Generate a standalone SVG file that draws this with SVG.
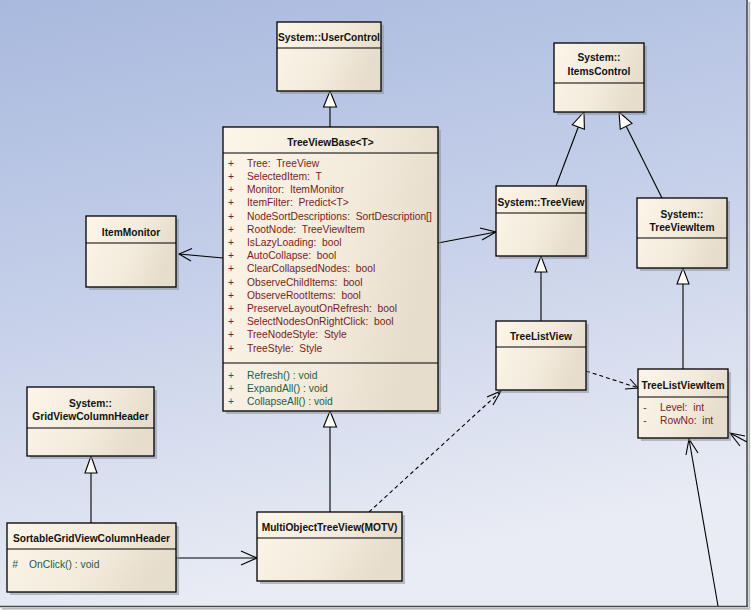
<svg xmlns="http://www.w3.org/2000/svg" width="751" height="610" viewBox="0 0 751 610" xml:space="preserve">
<defs>
<linearGradient id="bg" x1="0" y1="0" x2="0.25" y2="1">
<stop offset="0" stop-color="#a8b9de"/>
<stop offset="0.5" stop-color="#c6d0e9"/>
<stop offset="1" stop-color="#e9ecf4"/>
</linearGradient>
<linearGradient id="boxg" x1="0" y1="0" x2="1" y2="0.3">
<stop offset="0" stop-color="#fcf5e9"/>
<stop offset="0.6" stop-color="#f3ebdc"/>
<stop offset="1" stop-color="#e6ddcc"/>
</linearGradient>
</defs>
<style>
.shadow{fill:#8c8f99;opacity:0.55}
.box{fill:url(#boxg);stroke:#000;stroke-width:1.3}
.div{stroke:#000;stroke-width:1.2}
text{font-family:"Liberation Sans",Arial,sans-serif;font-size:10.3px;white-space:pre}
.title{font-weight:bold;fill:#111;text-anchor:middle;font-size:10.2px}
.attr{fill:#7a1c1c}
.op{fill:#255c44}
.vis{text-anchor:middle}
.conn line,.conn polyline{stroke:#000;stroke-width:1.1;fill:none}
.conn .dash{stroke-dasharray:4 3}
.conn polygon{fill:#fdfcf6;stroke:#000;stroke-width:1.1}
</style>
<rect x="0" y="0" width="751" height="610" fill="#f4f5f8"/>
<rect x="0" y="0" width="747" height="606" fill="url(#bg)"/>
<line x1="747" y1="0" x2="747" y2="607" stroke="#4a4a4a" stroke-width="1.6"/>
<line x1="0" y1="606.5" x2="748" y2="606.5" stroke="#4a4a4a" stroke-width="1.6"/>
<line x1="749.2" y1="2" x2="749.2" y2="609" stroke="#b8b8b8" stroke-width="1.5"/>
<line x1="2" y1="608.7" x2="750" y2="608.7" stroke="#b8b8b8" stroke-width="1.5"/>

<g class="conn" id="connectors">
<line x1="330" y1="127" x2="330" y2="107"/>
<polygon points="330,91 323.5,107 336.5,107"/>
<line x1="330" y1="512" x2="330" y2="427"/>
<polygon points="330,411 323.5,427 336.5,427"/>
<line x1="541" y1="321" x2="541" y2="272"/>
<polygon points="541,256 535,272 547,272"/>
<line x1="683" y1="369" x2="683" y2="284"/>
<polygon points="683,268 677,284 689,284"/>
<line x1="91" y1="523" x2="91" y2="473"/>
<polygon points="91,456 85,473 97,473"/>
<line x1="556" y1="186" x2="578.3" y2="127"/>
<polygon points="584,112 572.3,124.7 584.4,129.3"/>
<line x1="662" y1="198" x2="626.2" y2="126.3"/>
<polygon points="619,112 632,123.4 620.3,129.2"/>
<line x1="223" y1="258" x2="179" y2="254"/>
<polyline points="192,248.5 179,254 191,261"/>
<line x1="438" y1="243" x2="496" y2="232"/>
<polyline points="480,228 496,232 482,240"/>
<line x1="176" y1="558" x2="257" y2="558"/>
<polyline points="241,551 257,558 241,565"/>
<line x1="718" y1="606" x2="689" y2="439"/>
<polyline points="686,455 689,439 698,453"/>
<line x1="747" y1="442" x2="730" y2="433"/>
<polyline points="745,436 730,433 740,446"/>
<line class="dash" x1="586" y1="371" x2="637" y2="387.5"/>
<polyline points="630,379 638,388 625,389"/>
<line class="dash" x1="369" y1="512" x2="500" y2="392"/>
<polyline points="487,397 501,391 493,405"/>
</g>

<g id="UserControl">
<rect class="shadow" x="280" y="25" width="104" height="69"/>
<rect class="box" x="277" y="22" width="104" height="69"/>
<line class="div" x1="277" y1="48" x2="381" y2="48"/>
<text class="title" x="329" y="40.7">System::UserControl</text>
</g>

<g id="ItemsControl">
<rect class="shadow" x="557" y="46" width="90" height="69"/>
<rect class="box" x="554" y="43" width="90" height="69"/>
<line class="div" x1="554" y1="83" x2="644" y2="83"/>
<text class="title" x="599" y="61.4">System::</text>
<text class="title" x="599" y="74.7">ItemsControl</text>
</g>

<g id="TreeViewBase">
<rect class="shadow" x="226" y="130" width="215" height="284"/>
<rect class="box" x="223" y="127" width="215" height="284"/>
<line class="div" x1="223" y1="153" x2="438" y2="153"/>
<line class="div" x1="223" y1="363" x2="438" y2="363"/>
<text class="title" x="330.5" y="145.7">TreeViewBase&lt;T&gt;</text>
<g class="attr">
<text class="vis" x="231" y="166.7">+</text><text x="247" y="166.7">Tree:  TreeView</text>
<text class="vis" x="231" y="179.9">+</text><text x="247" y="179.9">SelectedItem:  T</text>
<text class="vis" x="231" y="193.1">+</text><text x="247" y="193.1">Monitor:  ItemMonitor</text>
<text class="vis" x="231" y="206.3">+</text><text x="247" y="206.3">ItemFilter:  Predict&lt;T&gt;</text>
<text class="vis" x="231" y="219.5">+</text><text x="247" y="219.5">NodeSortDescriptions:  SortDescription[]</text>
<text class="vis" x="231" y="232.7">+</text><text x="247" y="232.7">RootNode:  TreeViewItem</text>
<text class="vis" x="231" y="245.9">+</text><text x="247" y="245.9">IsLazyLoading:  bool</text>
<text class="vis" x="231" y="259.1">+</text><text x="247" y="259.1">AutoCollapse:  bool</text>
<text class="vis" x="231" y="272.3">+</text><text x="247" y="272.3">ClearCollapsedNodes:  bool</text>
<text class="vis" x="231" y="285.5">+</text><text x="247" y="285.5">ObserveChildItems:  bool</text>
<text class="vis" x="231" y="298.7">+</text><text x="247" y="298.7">ObserveRootItems:  bool</text>
<text class="vis" x="231" y="311.9">+</text><text x="247" y="311.9">PreserveLayoutOnRefresh:  bool</text>
<text class="vis" x="231" y="325.1">+</text><text x="247" y="325.1">SelectNodesOnRightClick:  bool</text>
<text class="vis" x="231" y="338.3">+</text><text x="247" y="338.3">TreeNodeStyle:  Style</text>
<text class="vis" x="231" y="351.5">+</text><text x="247" y="351.5">TreeStyle:  Style</text>
</g>
<g class="op">
<text class="vis" x="231" y="378.7">+</text><text x="247" y="378.7">Refresh() : void</text>
<text class="vis" x="231" y="391.9">+</text><text x="247" y="391.9">ExpandAll() : void</text>
<text class="vis" x="231" y="405.1">+</text><text x="247" y="405.1">CollapseAll() : void</text>
</g>
</g>

<g id="ItemMonitor">
<rect class="shadow" x="89" y="219" width="90" height="71"/>
<rect class="box" x="86" y="216" width="90" height="71"/>
<line class="div" x1="86" y1="243" x2="176" y2="243"/>
<text class="title" x="131" y="235.7">ItemMonitor</text>
</g>

<g id="SystemTreeView">
<rect class="shadow" x="499" y="189" width="90" height="70"/>
<rect class="box" x="496" y="186" width="90" height="70"/>
<line class="div" x1="496" y1="213" x2="586" y2="213"/>
<text class="title" x="541" y="205.7">System::TreeView</text>
</g>

<g id="SystemTreeViewItem">
<rect class="shadow" x="640" y="201" width="90" height="70"/>
<rect class="box" x="637" y="198" width="90" height="70"/>
<line class="div" x1="637" y1="238" x2="727" y2="238"/>
<text class="title" x="682" y="217.7">System::</text>
<text class="title" x="682" y="230.7">TreeViewItem</text>
</g>

<g id="TreeListView">
<rect class="shadow" x="499" y="324" width="90" height="69"/>
<rect class="box" x="496" y="321" width="90" height="69"/>
<line class="div" x1="496" y1="347" x2="586" y2="347"/>
<text class="title" x="541" y="339.7">TreeListView</text>
</g>

<g id="TreeListViewItem">
<rect class="shadow" x="641" y="372" width="90" height="69"/>
<rect class="box" x="638" y="369" width="90" height="69"/>
<line class="div" x1="638" y1="397" x2="728" y2="397"/>
<text class="title" x="683" y="388.7">TreeListViewItem</text>
<g class="attr">
<text class="vis" x="645" y="410.7">-</text><text x="660" y="410.7">Level:  int</text>
<text class="vis" x="645" y="423.5">-</text><text x="660" y="423.5">RowNo:  int</text>
</g>
</g>

<g id="GridViewColumnHeader">
<rect class="shadow" x="30" y="390" width="127" height="69"/>
<rect class="box" x="27" y="387" width="127" height="69"/>
<line class="div" x1="27" y1="428" x2="154" y2="428"/>
<text class="title" x="90.5" y="406.7">System::</text>
<text class="title" x="90.5" y="419.7">GridViewColumnHeader</text>
</g>

<g id="SortableGridViewColumnHeader">
<rect class="shadow" x="10" y="526" width="169" height="69"/>
<rect class="box" x="7" y="523" width="169" height="69"/>
<line class="div" x1="7" y1="549" x2="176" y2="549"/>
<text class="title" x="91.5" y="541.7">SortableGridViewColumnHeader</text>
<g class="op">
<text class="vis" x="15" y="567.7">#</text><text x="29" y="567.7">OnClick() : void</text>
</g>
</g>

<g id="MultiObjectTreeView">
<rect class="shadow" x="260" y="515" width="145" height="69"/>
<rect class="box" x="257" y="512" width="145" height="69"/>
<line class="div" x1="257" y1="538" x2="402" y2="538"/>
<text class="title" x="329.5" y="530.7">MultiObjectTreeView(MOTV)</text>
</g>
</svg>
